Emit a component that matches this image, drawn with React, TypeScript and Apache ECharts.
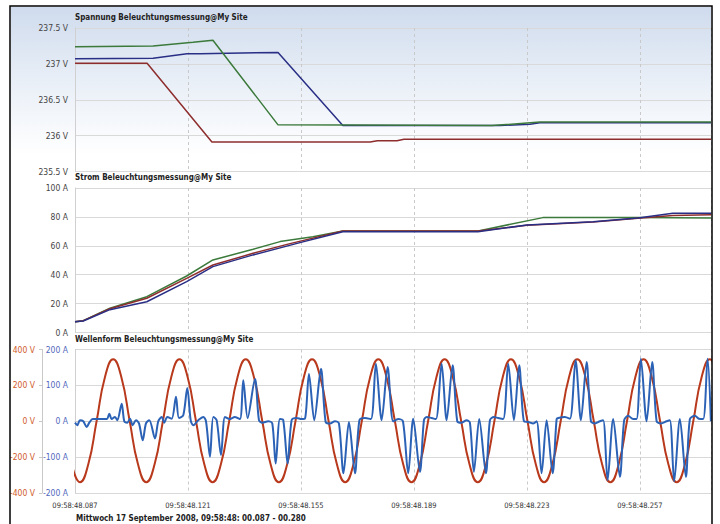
import React, { useEffect, useRef } from "react";
import * as echarts from "echarts";

// ---------- data ----------
// x values are milliseconds after 09:58:48.087
const X_TICK_LABELS = [
  "09:58:48.087",
  "09:58:48.121",
  "09:58:48.155",
  "09:58:48.189",
  "09:58:48.223",
  "09:58:48.257",
];
const X_MAX = 191.4;
const X_STEP = 34;

const TITLE_SPANNUNG = "Spannung Beleuchtungsmessung@My Site";
const TITLE_STROM = "Strom Beleuchtungsmessung@My Site";
const TITLE_WELLE = "Wellenform Beleuchtungsmessung@My Site";
const CAPTION = "Mittwoch 17 September 2008, 09:58:48: 00.087 - 00.280";

// RMS voltage per phase [ms, V]
const spannungGruen: [number, number][] = [
  [0, 237.24], [23.5, 237.25], [35.5, 237.3], [41.5, 237.33], [61.1, 236.15],
  [125.5, 236.14], [139.9, 236.19], [191.4, 236.19],
];
const spannungBlau: [number, number][] = [
  [0, 237.07], [23.5, 237.08], [33.7, 237.14], [37.6, 237.14], [61.1, 237.16],
  [80.6, 236.14], [127.9, 236.14], [136.9, 236.16], [139.9, 236.18], [191.4, 236.18],
];
const spannungRot: [number, number][] = [
  [0, 237.01], [21.7, 237.01], [41.2, 235.91], [88.8, 235.91], [91, 235.93],
  [96.9, 235.93], [99, 235.95], [191.4, 235.95],
];

// RMS current per phase [ms, A]
const stromGruen: [number, number][] = [
  [0, 7.5], [2.5, 8.2], [10.5, 16.8], [21.6, 24.8], [33.6, 39.1], [41.5, 50.2],
  [53.6, 57.6], [61.7, 62.9], [71.6, 66.3], [80.6, 70.3], [121.3, 70.3],
  [140.8, 79.5], [169.4, 79.5], [191.4, 79.3],
];
const stromRot: [number, number][] = [
  [0, 7.5], [2.5, 8.2], [10.5, 16.5], [21.6, 23.7], [33.6, 37.5], [41.5, 46.7],
  [53.6, 54.8], [64.7, 61.5], [80.6, 70.3], [121.3, 70.3], [136, 74.2],
  [155.9, 76.5], [169.4, 79.0], [179.9, 80.9], [191.4, 81.5],
];
const stromBlau: [number, number][] = [
  [0, 7.5], [2.5, 8.0], [10.5, 15.8], [21.6, 21.3], [33.6, 35.2], [41.5, 45.6],
  [53.6, 53.7], [67.7, 62.2], [80.6, 69.7], [121.3, 69.7], [136, 74.4],
  [155.9, 76.7], [169.4, 79.3], [179.9, 82.5], [191.4, 82.5],
];

// Voltage waveform, sampled every WAVE_V_STEP ms from WAVE_V_START
const WAVE_V_START = -0.99;
const WAVE_V_STEP = 2.494;
const wellenSpannung = [
  -240, -340, -240, 0, 244, 345, 244, 0,
  -240, -340, -240, 0, 244, 345, 244, 0,
  -240, -340, -240, 0, 244, 345, 244, 0,
  -240, -340, -240, 0, 244, 345, 244, 0,
  -240, -340, -240, 0, 244, 345, 244, 0,
  -240, -340, -240, 0, 244, 345, 244, 0,
  -240, -340, -240, 0, 244, 345, 244, 0,
  -240, -340, -240, 0, 244, 345, 244, 0,
  -240, -340, -240, 0, 244, 345, 244, 0,
  -240, -340, -240, 0, 244, 345, 244,
];

// Current waveform [ms, A]
const wellenStrom: [number, number][] = [
  [0, -4], [0.69, -11], [1.5, 3], [2.5, 0], [3.52, -16], [4.3, -4], [5.33, 6],
  [9.54, 6], [10.32, 21], [11.04, 6], [12.04, 12], [12.73, 3], [14.05, 49],
  [14.83, 0], [15.74, -4], [16.55, 7], [17.36, -11], [18.35, 3], [19.26, -6],
  [20.37, -53], [21.36, -6], [22.36, 3], [24.07, -48], [25.06, 0], [26.09, 12],
  [26.87, -4], [27.77, 12], [29.1, 7], [30.39, 68], [31.29, 9], [32.59, 17],
  [33.79, 93], [34.81, 3], [35.59, -11], [37.1, 3], [38.6, 12], [39.42, 0],
  [40.62, -99], [41.61, 12], [42.63, 3], [43.93, -94], [45.13, 12], [46.43, 6],
  [48.14, 12], [49.65, 6], [50.64, 114], [51.96, 9], [54.16, 118], [55.36, 3],
  [56.36, -4], [58.16, 0], [59.37, -6], [60.39, -118], [61.68, 6], [62.67, 3],
  [63.99, -118], [65.2, 3], [66.7, 9], [68.21, 6], [69.2, 7], [70.41, 132],
  [72.0, 3], [74.02, 146], [75.43, -2], [76.72, -6], [78.23, 0], [79.43, -6],
  [80.79, -145], [82.44, -2], [84.25, -145], [85.6, 3], [87.26, 9], [89.06, 6],
  [90.56, 160], [92.28, 3], [94.08, 151], [95.77, 0], [97.27, 6], [98.69, 0],
  [100.28, -145], [101.79, 7], [103.8, -141], [105.01, 3], [105.82, 12],
  [107.32, 9], [108.62, 6], [110.33, 160], [111.84, 3], [113.64, 156],
  [115.03, 0], [116.35, -4], [117.85, 3], [118.85, -4], [120.05, -141],
  [121.65, 6], [123.66, -145], [124.87, 3], [126.07, 12], [127.36, 9],
  [128.87, 6], [130.37, 160], [132.09, 3], [133.68, 156], [135.1, 0],
  [136.39, -2], [137.9, -6], [138.92, 0], [140.42, -145], [141.93, 3],
  [143.73, -145], [144.94, 6], [145.42, 9], [147.43, 12], [148.94, 7],
  [150.65, 169], [152.25, 3], [153.96, 165], [155.26, 0], [156.46, -6],
  [157.96, 0], [158.96, 3], [160.28, -164], [161.97, 6], [163.98, -155],
  [165.27, 3], [166.48, 15], [167.98, 6], [169.0, 6], [170.3, 174], [172.02, 0],
  [173.7, 165], [175.03, 0], [176.32, -6], [178.04, 0], [179.02, 3],
  [180.32, -167], [182.04, 6], [183.84, -155], [185.04, 6], [186.55, 15],
  [187.75, 7], [189.05, 6], [190.37, 174], [191.36, 0],
];

// ---------- styles ----------
const FONT = "'Liberation Sans Narrow', 'Noto Sans Condensed', 'DejaVu Sans Condensed', 'Liberation Sans', sans-serif";
const GREEN = "#3b7a3b";
const NAVY = "#2a2f86";
const DARKRED = "#8e2d2d";
const WAVE_RED = "#b8391c";
const WAVE_BLUE = "#2c62b6";
const ORANGE_LABEL = "#cf5a2a";
const BLUE_LABEL = "#5068bd";

export default function App() {
  const ref = useRef<HTMLDivElement>(null);

  useEffect(() => {
    if (!ref.current) return;
    const chart = echarts.init(ref.current, null, { renderer: "svg" });

    const tickLabel = (v: number) => {
      const i = Math.round(v / X_STEP);
      return Math.abs(i * X_STEP - v) < 0.01 ? X_TICK_LABELS[i] ?? "" : "";
    };

    const xAxis = (gridIndex: number, showLabels: boolean) => ({
      type: "value",
      gridIndex,
      min: 0,
      max: X_MAX,
      interval: X_STEP,
      axisLine: { show: showLabels, lineStyle: { color: "#c8c8c8" } },
      axisTick: { show: false },
      axisLabel: {
        show: showLabels,
        showMaxLabel: false,
        formatter: tickLabel,
        color: "#333",
        fontSize: 7.5,
        fontFamily: FONT,
        margin: 8,
      },
      splitLine: { show: true, lineStyle: { color: "#c9c9c9", type: [3, 3], width: 1 } },
    });

    const yBase = {
      type: "value",
      axisLine: { show: true, lineStyle: { color: "#d0d0d0" } },
      axisTick: { show: false },
      splitLine: { show: true, lineStyle: { color: "#d9d9d9", width: 1 } },
    };

    const line = (
      name: string,
      data: [number, number][],
      color: string,
      xi: number,
      yi: number,
      width: number,
      smooth: number | boolean = false
    ) => ({
      name,
      type: "line",
      xAxisIndex: xi,
      yAxisIndex: yi,
      data,
      showSymbol: false,
      smooth,
      lineStyle: { color, width },
      itemStyle: { color },
    });

    const titleStyle = { fontSize: 8, fontWeight: "bold", color: "#222", fontFamily: FONT };
    const yLabel = { fontSize: 8.5, fontFamily: FONT, margin: 7 };

    chart.setOption({
      animation: false,
      backgroundColor: "#ffffff",
      title: [
        { text: TITLE_SPANNUNG, left: 75, top: 13, padding: 0, textStyle: titleStyle },
        { text: TITLE_STROM, left: 75, top: 173, padding: 0, textStyle: titleStyle },
        { text: TITLE_WELLE, left: 75, top: 335, padding: 0, textStyle: titleStyle },
        { text: CAPTION, left: 76, top: 514, padding: 0, textStyle: titleStyle },
      ],
      graphic: {
        elements: [
          {
            type: "rect",
            z: -100,
            silent: true,
            shape: { x: 11, y: 7, width: 700, height: 165 },
            style: {
              fill: new echarts.graphic.LinearGradient(0, 0, 0, 1, [
                { offset: 0, color: "#cfdbed" },
                { offset: 0.45, color: "#e9eff7" },
                { offset: 0.9, color: "#ffffff" },
                { offset: 1, color: "#ffffff" },
              ]),
            },
          },
          {
            type: "rect",
            z: 100,
            silent: true,
            shape: { x: 10, y: 6, width: 702, height: 560 },
            style: { fill: "none", stroke: "#000", lineWidth: 1.5 },
          },
        ],
      },
      grid: [
        { left: 75, top: 28, width: 636, height: 143.5 },
        { left: 75, top: 188, width: 636, height: 144.5 },
        { left: 75, top: 349.5, width: 636, height: 143.5 },
      ],
      xAxis: [xAxis(0, false), xAxis(1, false), xAxis(2, true)],
      yAxis: [
        {
          ...yBase,
          gridIndex: 0,
          min: 235.5,
          max: 237.5,
          interval: 0.5,
          axisLabel: { ...yLabel, formatter: (v: number) => `${v} V`, color: "#444" },
        },
        {
          ...yBase,
          gridIndex: 1,
          min: 0,
          max: 100,
          interval: 20,
          axisLabel: { ...yLabel, formatter: (v: number) => `${v} A`, color: "#444" },
        },
        {
          ...yBase,
          gridIndex: 2,
          min: -200,
          max: 200,
          interval: 100,
          axisLabel: { ...yLabel, formatter: (v: number) => `${v} A`, color: BLUE_LABEL },
        },
        {
          ...yBase,
          gridIndex: 2,
          position: "left",
          offset: 33,
          min: -400,
          max: 400,
          interval: 200,
          axisLine: { show: true, lineStyle: { color: "#c8c8c8" } },
          axisTick: { show: true, length: 3, lineStyle: { color: "#c8c8c8" } },
          splitLine: { show: false },
          axisLabel: { ...yLabel, formatter: (v: number) => `${v} V`, color: ORANGE_LABEL },
        },
      ],
      series: [
        line("Spannung L3", spannungRot, DARKRED, 0, 0, 1.5),
        line("Spannung L2", spannungBlau, NAVY, 0, 0, 1.5),
        line("Spannung L1", spannungGruen, GREEN, 0, 0, 1.5),
        line("Strom L1", stromGruen, GREEN, 1, 1, 1.5),
        line("Strom L3", stromRot, DARKRED, 1, 1, 1.5),
        line("Strom L2", stromBlau, NAVY, 1, 1, 1.5),
        line(
          "Spannung",
          wellenSpannung.map((v, i) => [WAVE_V_START + i * WAVE_V_STEP, v] as [number, number]),
          WAVE_RED,
          2,
          3,
          2,
          true
        ),
        line("Strom", wellenStrom, WAVE_BLUE, 2, 2, 2, 0.3),
      ],
    });

    return () => chart.dispose();
  }, []);

  return (
    <div
      ref={ref}
      style={{ position: "fixed", left: 0, top: 0, width: 720, height: 524, background: "#fff" }}
    />
  );
}
